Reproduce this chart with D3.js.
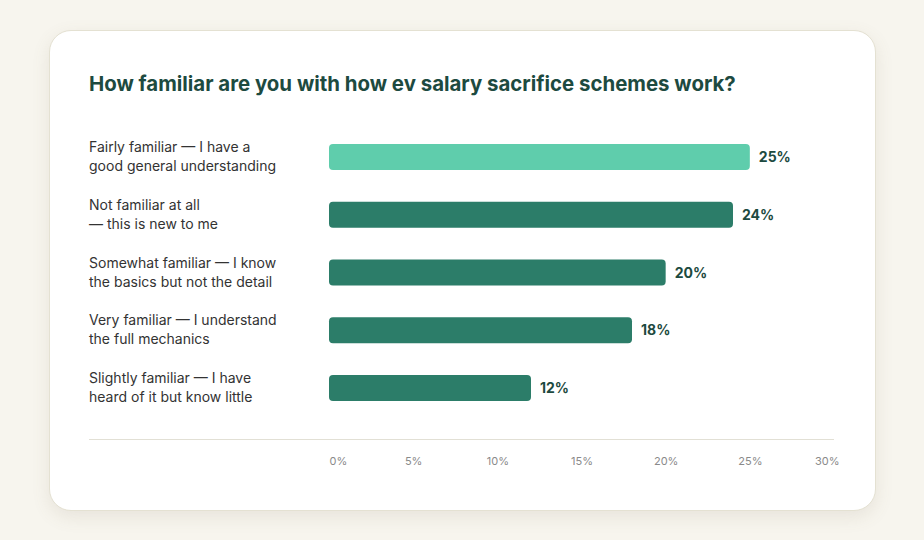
<!DOCTYPE html>
<html>
<head>
<meta charset="utf-8">
<script src="https://cdn.jsdelivr.net/npm/d3@7"></script>
<style>
  html, body { margin: 0; padding: 0; background: #f7f5ee; }
  body { width: 924px; height: 540px; overflow: hidden; font-family: Inter, "Noto Sans", sans-serif; }
  .card {
    position: absolute; left: 49px; top: 30px; width: 825px; height: 479px;
    background: #fff; border: 1px solid #e4e1d2; border-radius: 22px;
    box-shadow: 0 6px 18px rgba(120, 110, 80, 0.12);
  }
  svg { position: absolute; left: 0; top: 0; }
</style>
</head>
<body>
<div class="card"></div>
<svg id="chart" width="924" height="540"></svg>
<script>
const title = 'How familiar are you with how ev salary sacrifice schemes work?';

const categories = [
  ['Fairly familiar — I have a', 'good general understanding'],
  ['Not familiar at all', '— this is new to me'],
  ['Somewhat familiar — I know', 'the basics but not the detail'],
  ['Very familiar — I understand', 'the full mechanics'],
  ['Slightly familiar — I have', 'heard of it but know little']
];
const values = [25, 24, 20, 18, 12];
const tickValues = [0, 5, 10, 15, 20, 25, 30];

const svg = d3.select('#chart');

svg.append('text')
  .attr('x', 89)
  .attr('y', 91)
  .attr('fill', '#1d4a40')
  .attr('font-size', 20.4)
  .attr('font-weight', 700)
  .text(title);

const x = d3.scaleLinear().domain([0, 30]).range([329, 834]);
const y = d3.scaleBand()
  .domain(d3.range(values.length))
  .range([128, 417])
  .paddingInner(0.55)
  .paddingOuter(0.275);

// bars
const rows = svg.append('g')
  .selectAll('g')
  .data(values)
  .enter()
  .append('g');

rows.append('rect')
  .attr('x', x(0))
  .attr('y', (d, i) => y(i))
  .attr('width', d => x(d) - x(0))
  .attr('height', y.bandwidth())
  .attr('rx', 4)
  .attr('fill', (d, i) => i === 0 ? '#5fcdac' : '#2c7d69');

rows.append('text')
  .attr('x', d => x(d) + 9)
  .attr('y', (d, i) => y(i) + y.bandwidth() / 2 + 5)
  .attr('fill', '#1d4a40')
  .attr('font-size', 14)
  .attr('font-weight', 700)
  .text(d => `${d}%`);

// category labels, two lines each
const labels = rows.append('text')
  .attr('x', 89)
  .attr('fill', '#333')
  .attr('font-size', 14);

labels.each(function(d, i) {
  const cy = y(i) + y.bandwidth() / 2;
  d3.select(this).selectAll('tspan')
    .data(categories[i])
    .enter()
    .append('tspan')
    .attr('x', 89)
    .attr('y', (t, j) => cy - 5 + j * 19)
    .text(t => t);
});

// axis
svg.append('line')
  .attr('x1', 89)
  .attr('x2', 834)
  .attr('y1', 439.5)
  .attr('y2', 439.5)
  .attr('stroke', '#e2e0d5')
  .attr('stroke-width', 1);

const axis = d3.axisBottom(x)
  .tickValues(tickValues)
  .tickFormat(d => `${d}%`)
  .tickSize(0)
  .tickPadding(0);

const axisGroup = svg.append('g')
  .attr('transform', 'translate(0, 465)')
  .call(axis);

axisGroup.select('.domain').remove();
axisGroup.selectAll('text')
  .attr('dy', 0)
  .attr('fill', '#8a8a8a')
  .attr('font-size', 11)
  .attr('font-family', 'Inter, "Noto Sans", sans-serif')
  .attr('text-anchor', (d, i) => i === 0 ? 'start' : (i === tickValues.length - 1 ? 'end' : 'middle'))
  .attr('dx', (d, i) => i === tickValues.length - 1 ? 5 : 0);
</script>
</body>
</html>
